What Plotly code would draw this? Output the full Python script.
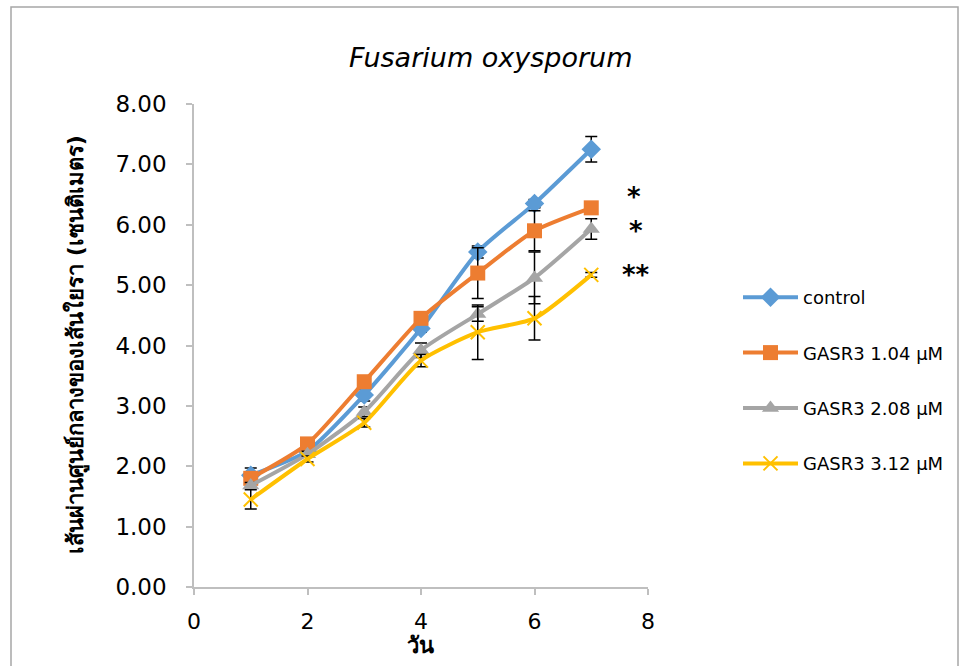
import plotly.graph_objects as go

days = [1, 2, 3, 4, 5, 6, 7]
control = [1.85, 2.25, 3.18, 4.28, 5.55, 6.35, 7.25]
control_err = [0.12, 0.05, 0.10, 0.06, 0.10, 0.07, 0.21]
g104 = [1.80, 2.37, 3.40, 4.45, 5.20, 5.90, 6.28]
g104_err = [0.08, 0.05, 0.06, 0.05, 0.42, 0.33, 0.05]
g208 = [1.68, 2.20, 2.90, 3.92, 4.52, 5.12, 5.93]
g208_err = [0.05, 0.05, 0.08, 0.12, 0.12, 0.43, 0.17]
g312 = [1.45, 2.12, 2.72, 3.75, 4.22, 4.45, 5.17]
g312_err = [0.16, 0.05, 0.07, 0.10, 0.45, 0.36, 0.04]
names = ["control", "GASR3 1.04 µM", "GASR3 2.08 µM", "GASR3 3.12 µM"]
colors = ["#5B9BD5", "#ED7D31", "#A5A5A5", "#FFC000"]
symbols = ["diamond", "square", "triangle-up", "x-thin"]
sizes = [15, 15, 15, 14]
values = [control, g104, g208, g312]
errors = [control_err, g104_err, g208_err, g312_err]
stars = ["*", "*", "**"]
star_y = [6.46, 5.90, 5.16]
star_x = [7.76, 7.79, 7.79]

FONT = "DejaVu Sans, sans-serif"

fig = go.Figure()
for nm, col, sym, sz, v, e in zip(names, colors, symbols, sizes, values, errors):
    fig.add_trace(go.Scatter(
        x=days, y=v, name=nm, mode="lines+markers",
        line=dict(color=col, width=4, shape="spline", smoothing=0.6),
        marker=dict(symbol=sym, size=sz, color=col,
                    line=dict(color=col, width=2 if sym == "x-thin" else 0)),
        error_y=dict(type="data", array=e, visible=True, color="black",
                     thickness=1.5, width=6),
        legendgroup=nm,
    ))

for s, sx, sy in zip(stars, star_x, star_y):
    fig.add_annotation(x=sx, y=sy, xref="x", yref="y", text="<b>" + s + "</b>",
                       showarrow=False, xanchor="center", yanchor="middle",
                       font=dict(size=26, color="black", family=FONT))

# reference-pixel -> paper helpers
L, R, T, B = 194, 648, 104, 587
def px(xp):
    return (xp - L) / (R - L)
def py(yp):
    return (B - yp) / (B - T)

fig.add_annotation(x=px(490), y=py(57), xref="paper", yref="paper",
                   xanchor="center", yanchor="middle",
                   text="<i>Fusarium oxysporum</i>", showarrow=False,
                   font=dict(size=27, color="black", family=FONT))
fig.add_annotation(x=px(76), y=py(345), xref="paper", yref="paper",
                   xanchor="center", yanchor="middle",
                   text="<b>เส้นผ่านศูนย์กลางของเส้นใยรา (เซนติเมตร)</b>",
                   textangle=-90, showarrow=False,
                   font=dict(size=22, color="black", family=FONT))
fig.add_annotation(x=px(420), y=py(645), xref="paper", yref="paper",
                   xanchor="center", yanchor="middle",
                   text="<b>วัน</b>", showarrow=False,
                   font=dict(size=22, color="black", family=FONT))

fig.add_shape(type="rect", xref="paper", yref="paper",
              x0=px(11), x1=px(958), y0=py(672), y1=py(7),
              line=dict(color="#A6A6A6", width=1.5), layer="below")

fig.update_layout(
    width=963, height=666,
    margin=dict(l=L, r=963 - R, t=T, b=666 - B),
    paper_bgcolor="white", plot_bgcolor="white",
    font=dict(family=FONT, color="black"),
    showlegend=True,
    legend=dict(x=px(738), y=py(279), xanchor="left", yanchor="top",
                font=dict(size=18, color="black", family=FONT),
                tracegroupgap=29, itemwidth=55, bgcolor="rgba(0,0,0,0)"),
    xaxis=dict(range=[0, 8], tickvals=[0, 2, 4, 6, 8], showgrid=False,
               zeroline=False, showline=True, linecolor="#BFBFBF", linewidth=1.5,
               ticks="outside", ticklen=6, tickcolor="#BFBFBF", tickwidth=1.5,
               tickfont=dict(size=22, color="black", family=FONT),
               ticklabelstandoff=8),
    yaxis=dict(range=[0, 8], tickvals=[0, 1, 2, 3, 4, 5, 6, 7, 8],
               ticktext=["0.00", "1.00", "2.00", "3.00", "4.00", "5.00",
                         "6.00", "7.00", "8.00"],
               showgrid=False, zeroline=False, showline=True,
               linecolor="#BFBFBF", linewidth=1.5,
               ticks="outside", ticklen=6, tickcolor="#BFBFBF", tickwidth=1.5,
               tickfont=dict(size=23, color="black", family=FONT),
               ticklabelstandoff=15),
)

fig.write_html("out.html", config={"displayModeBar": False},
               post_script="document.body.style.margin='0px';"
                           "document.body.style.overflow='hidden';")
